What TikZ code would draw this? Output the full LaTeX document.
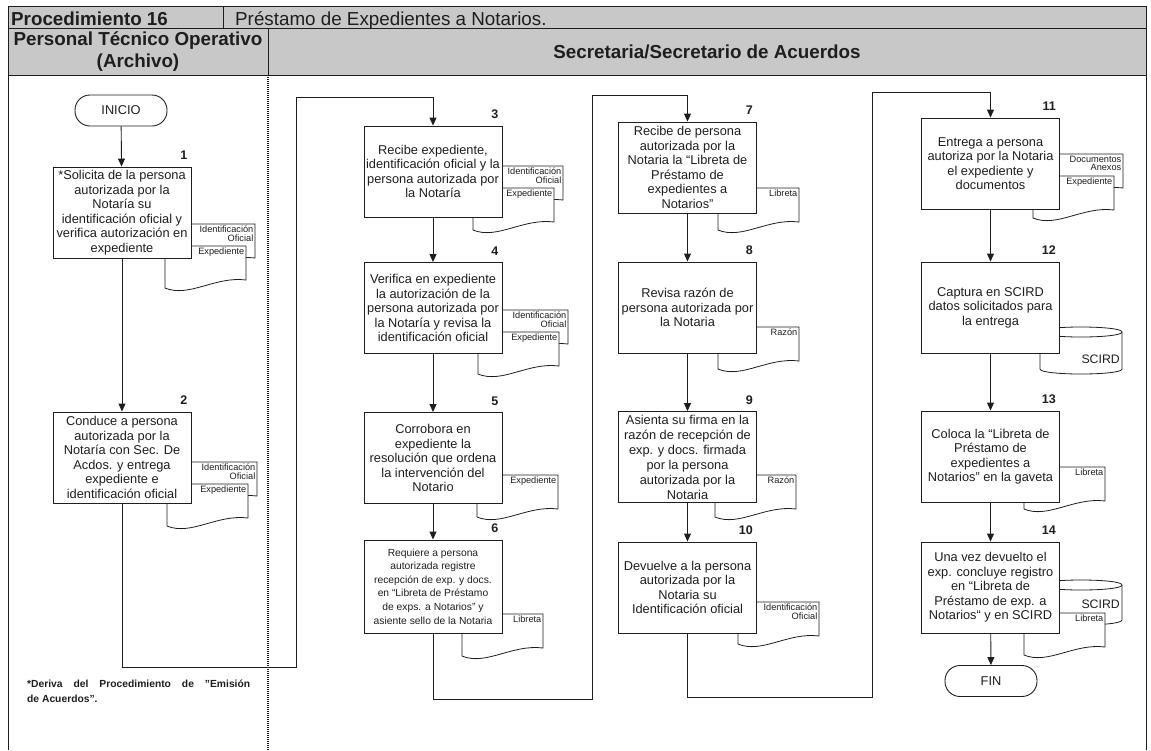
\documentclass[tikz,border=0pt]{standalone}
\usepackage{fontspec}
\setmainfont{Liberation Sans}
\usetikzlibrary{arrows.meta,calc}
\definecolor{hdr}{RGB}{200,200,200}
\definecolor{ink}{RGB}{30,30,30}

\newcommand{\mydoc}[2]{%
  \draw[docl] ({#1},{#2}) -- ({#1+81},{#2}) -- ({#1+81},{#2+34})
    .. controls ({#1+50},{#2+30}) and ({#1+24},{#2+52}) .. ({#1},{#2+42}) -- cycle;}
\newcommand{\docpair}[5]{%
  \mydoc{#1+9}{#2-22}
  \node[doctxt] (#5b) at ({#1+9+80},{#2-22+1}) {#3};
  \mydoc{#1}{#2}
  \node[doctxt] (#5f) at ({#1+80},{#2+1}) {#4};}
\newcommand{\docone}[4]{%
  \mydoc{#1}{#2}
  \node[doctxt] (#4) at ({#1+80},{#2+1}) {#3};}
\newcommand{\mycyl}[4]{%
  \draw[docl] ({#1},{#2+5}) -- ({#1},{#4-5}) .. controls ({#1},{#4+1.67}) and ({#3},{#4+1.67}) .. ({#3},{#4-5})
     -- ({#3},{#2+5}) .. controls ({#3},{#2-1.67}) and ({#1},{#2-1.67}) .. cycle;
  \draw[docl] ({#1},{#2+5}) .. controls ({#1},{#2+11.67}) and ({#3},{#2+11.67}) .. ({#3},{#2+5});}

\begin{document}
\begin{tikzpicture}[x=1pt,y=-1pt,
  frame/.style={draw=ink,line width=0.9pt},
  docl/.style={draw=ink,line width=0.8pt,fill=white},
  doctxt/.style={anchor=north east,inner sep=0.5pt,align=right,text=ink,font=\fontsize{9.2}{8.8}\selectfont},
  proc/.style={draw=ink,line width=0.9pt,fill=white,minimum width=138pt,minimum height=91pt,inner sep=1pt,align=center,text=ink,font=\fontsize{12.8}{14.5}\selectfont},
  term/.style={draw=ink,line width=0.9pt,fill=white,rounded corners=15pt,minimum width=92pt,minimum height=31pt,inner sep=1pt,text=ink,font=\fontsize{12.8}{14.5}\selectfont},
  num/.style={anchor=base east,inner sep=0pt,text=ink,font=\bfseries\fontsize{12.5}{14}\selectfont},
  hdrb/.style={inner sep=0pt,text=ink,font=\bfseries\fontsize{18.8}{21.5}\selectfont},
  hdrr/.style={inner sep=0pt,text=ink,font=\fontsize{18.8}{21.5}\selectfont},
  conn/.style={draw=ink,line width=0.9pt,-{Triangle[length=8pt,width=7pt]}}
]
\useasboundingbox (0,0) rectangle (1151,750);

% header
\draw[frame,fill=hdr] (8,6) rectangle (1146,28);
\draw[frame] (223,6) -- (223,28);
\draw[frame,fill=hdr] (8,28) rectangle (1146,75);
\draw[frame] (268,28) -- (268,75);
\draw[frame] (8,75) -- (8,750);
\draw[frame] (1146,75) -- (1146,750);
\draw[draw=ink,line width=2pt,dash pattern=on 1pt off 1pt] (268,75) -- (268,750);

\node[hdrb,anchor=base west] (proc) at (11,25) {Procedimiento 16};
\node[hdrr,anchor=base west] (tit) at (235,25) {Préstamo de Expedientes a Notarios.};
\node[hdrb,align=center] (lane1) at (138,51.5) {Personal Técnico Operativo\\(Archivo)};
\node[hdrb] (lane2) at (707,52) {Secretaria/Secretario de Acuerdos};

% documents (behind boxes)
\docpair{165}{246}{Identificación\\Oficial}{Expediente}{d1}
\docpair{167}{484}{Identificación\\Oficial}{Expediente}{d2}
\docpair{473}{188}{Identificación\\Oficial}{Expediente}{d3}
\docpair{478}{332}{Identificación\\Oficial}{Expediente}{d4}
\docone{477}{475}{Expediente}{d5}
\docone{462}{614}{Libreta}{d6}
\docone{718}{188}{Libreta}{d7}
\docone{718}{327}{Razón}{d8}
\docone{715}{475}{Razón}{d9}
\docone{738}{602}{Identificación\\Oficial}{d10}
\docpair{1033}{176}{Documentos\\Anexos}{Expediente}{d11}
\mycyl{1040}{327}{1122}{374}
\node[anchor=base east,inner sep=0pt,text=ink,font=\fontsize{12.3}{14}\selectfont] (s12) at (1120,363) {SCIRD};
\docone{1024}{467}{Libreta}{d13}
\mycyl{1040}{580}{1122}{625}
\node[anchor=base east,inner sep=0pt,text=ink,font=\fontsize{12.3}{14}\selectfont] (s14) at (1120,608) {SCIRD};
\docone{1024}{613}{Libreta}{d14}

% terminators and process boxes
\node[term] (ini) at (121,110.5) {INICIO};
\node[proc] (b1) at (122,212.5) {*Solicita de la persona\\autorizada por la\\Notaría su\\identificación oficial y\\verifica autorización en\\expediente};
\node[proc] (b2) at (122,457.5) {Conduce a persona\\autorizada por la\\Notaría con Sec. De\\Acdos. y entrega\\expediente e\\identificación oficial};
\node[proc] (b3) at (433,171.5) {Recibe expediente,\\identificación oficial y la\\persona autorizada por\\la Notaría};
\node[proc] (b4) at (433,308) {Verifica en expediente\\la autorización de la\\persona autorizada por\\la Notaría y revisa la\\identificación oficial};
\node[proc] (b5) at (433,458) {Corrobora en\\expediente la\\resolución que ordena\\la intervención del\\Notario};
\node[proc,minimum height=93pt,font=\fontsize{10.3}{13.6}\selectfont] (b6) at (433,586.5) {Requiere a persona\\autorizada registre\\recepción de exp. y docs.\\en “Libreta de Préstamo\\de exps. a Notarios” y\\asiente sello de la Notaria};
\node[proc] (b7) at (687.5,167.5) {Recibe de persona\\autorizada por la\\Notaria la “Libreta de\\Préstamo de\\expedientes a\\Notarios”};
\node[proc] (b8) at (687.5,307.5) {Revisa razón de\\persona autorizada por\\la Notaria};
\node[proc,font=\fontsize{12.8}{15}\selectfont] (b9) at (687.5,457) {Asienta su firma en la\\razón de recepción de\\exp. y docs. firmada\\por la persona\\autorizada por la\\Notaria};
\node[proc] (b10) at (687.5,587.5) {Devuelve a la persona\\autorizada por la\\Notaria su\\Identificación oficial};
\node[proc] (b11) at (990.5,163.5) {Entrega a persona\\autoriza por la Notaria\\el expediente y\\documentos};
\node[proc] (b12) at (990.5,307.5) {Captura en SCIRD\\datos solicitados para\\la entrega};
\node[proc] (b13) at (990.5,456.5) {Coloca la “Libreta de\\Préstamo de\\expedientes a\\Notarios” en la gaveta};
\node[proc] (b14) at (990.5,587.5) {Una vez devuelto el\\exp. concluye registro\\en “Libreta de\\Préstamo de exp. a\\Notarios“ y en SCIRD};
\node[term] (fin) at (991,681) {FIN};

% numbers
\foreach \i in {1,...,14}{
  \node[num] (n\i) at ($(b\i.north east)+(-4,-7)$) {\i};
}

% connectors
\coordinate (k1) at (122,667);
\coordinate (k2) at (296,667);
\coordinate (k3) at (296,97);
\coordinate (k4) at (433,97);
\coordinate (m1) at (433,699);
\coordinate (m2) at (592,699);
\coordinate (m3) at (592,95);
\coordinate (m4) at (687.5,95);
\coordinate (p1) at (687.5,697);
\coordinate (p2) at (872,697);
\coordinate (p3) at (872,92);
\coordinate (p4) at (990.5,92);

\draw[conn] (ini) -- (b1);
\draw[conn] (b1) -- (b2);
\draw[conn] (b2.south) -- (k1) -- (k2) -- (k3) -- (k4) -- (b3.north);
\draw[conn] (b3) -- (b4);
\draw[conn] (b4) -- (b5);
\draw[conn] (b5) -- (b6);
\draw[conn] (b6.south) -- (m1) -- (m2) -- (m3) -- (m4) -- (b7.north);
\draw[conn] (b7) -- (b8);
\draw[conn] (b8) -- (b9);
\draw[conn] (b9) -- (b10);
\draw[conn] (b10.south) -- (p1) -- (p2) -- (p3) -- (p4) -- (b11.north);
\draw[conn] (b11) -- (b12);
\draw[conn] (b12) -- (b13);
\draw[conn] (b13) -- (b14);
\draw[conn] (b14) -- (fin);

% footnote
\node[anchor=north west,inner sep=0pt,align=left,text=ink,font=\bfseries\fontsize{10.3}{15}\selectfont] (fn) at (27,680)
  {\makebox[223pt][s]{*Deriva del Procedimiento de \symbol{34}Emisión}\\de Acuerdos\symbol{34}.};
\end{tikzpicture}
\end{document}
